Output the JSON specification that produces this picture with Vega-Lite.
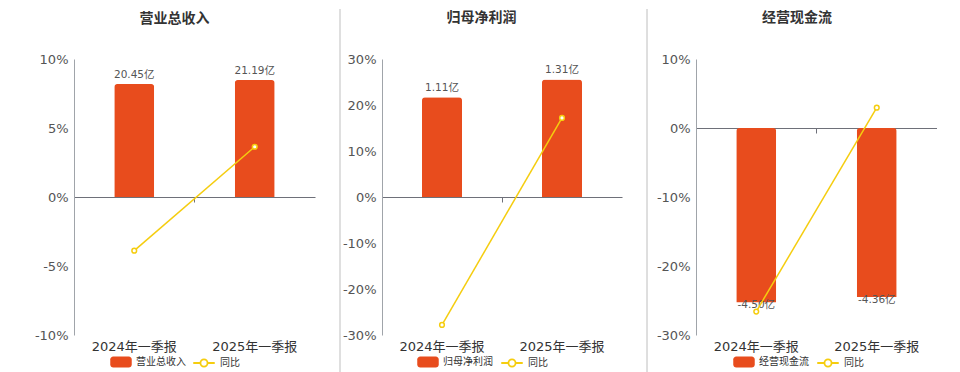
{
 "$schema": "https://vega.github.io/schema/vega-lite/v6.json",
 "background": "white",
 "padding": {"left": 0, "top": 8, "right": 0, "bottom": 0},
 "spacing": 24,
 "config": {
  "font": "DejaVu Sans, Noto Sans CJK SC",
  "view": {"stroke": null},
  "title": {"fontSize": 14, "fontWeight": "bold", "color": "#333333", "frame": "group", "anchor": "middle", "offset": -17},
  "axis": {"labelFontSize": 13, "labelColor": "#555555"},
  "axisY": {"grid": true, "gridColor": "#E8ECF4", "domainColor": "#A0A4AA", "ticks": false, "labelPadding": 6},
  "legend": {"labelFontSize": 10, "labelColor": "#333333", "labelOffset": 4, "symbolSize": 462, "padding": 0}
 },
 "hconcat": [
  {
   "width": 241, "height": 276,
   "title": {"text": "营业总收入", "dx": -20},
   "layer": [
    {
     "data": {"values": [
      {"period": "2024年一季报", "value": 20.45, "label": "20.45亿", "yoy": -3.89},
      {"period": "2025年一季报", "value": 21.19, "label": "21.19亿", "yoy": 3.64}
     ]},
     "layer": [
      {
       "encoding": {
        "x": {"field": "period", "type": "nominal", "sort": null, "scale": {"paddingInner": 0, "paddingOuter": 0},
              "axis": {"orient": "top", "offset": -138, "title": null, "labels": false, "grid": false, "domain": true, "domainColor": "#6E7079", "domainWidth": 1.2, "ticks": true, "tickColor": "#6E7079", "tickSize": -5, "bandPosition": 0}},
        "y": {"field": "value", "type": "quantitative", "scale": {"domain": [-25, 25], "nice": false, "zero": false}, "axis": null}
       },
       "layer": [
        {"mark": {"type": "bar", "width": 40, "cornerRadiusEnd": 3},
         "encoding": {
          "fill": {"datum": "营业总收入", "type": "nominal", "scale": {"range": ["#E84C1D"]},
                   "legend": {"orient": "none", "legendX": 36, "legendY": 292, "title": null, "symbolType": "M-0.72,-0.51H0.72A0.28,0.28,0,0,1,1,-0.23V0.23A0.28,0.28,0,0,1,0.72,0.51H-0.72A0.28,0.28,0,0,1,-1,0.23V-0.23A0.28,0.28,0,0,1,-0.72,-0.51Z", "symbolStrokeWidth": 0, "symbolOpacity": 1}}
         }},
        {"mark": {"type": "text", "baseline": "middle", "dy": -9, "fontSize": 10.5, "color": "#555555"},
         "encoding": {"text": {"field": "label"}}}
       ]
      },
      {
       "encoding": {
        "x": {"field": "period", "type": "nominal", "sort": null, "scale": {"paddingInner": 0, "paddingOuter": 0},
              "axis": {"orient": "bottom", "title": null, "domain": false, "ticks": false, "grid": false, "labelPadding": 5, "labelColor": "#333333", "labelAngle": 0}},
        "y": {"field": "yoy", "type": "quantitative", "scale": {"domain": [-10, 10], "nice": false}, "axis": {"title": null, "values": [-10, -5, 0, 5, 10], "labelExpr": "datum.value + '%'"}}
       },
       "layer": [
        {"mark": {"type": "line", "strokeWidth": 1.5},
         "encoding": {
          "stroke": {"datum": "同比", "type": "nominal", "scale": {"range": ["#F5CD0F"]},
                     "legend": {"orient": "none", "legendX": 118, "legendY": 292, "title": null, "symbolType": "M-1,0H-0.33M0.33,0H1M0.33,0A0.33,0.33,0,1,1,-0.33,0A0.33,0.33,0,1,1,0.33,0", "symbolStrokeWidth": 1.8, "symbolFillColor": "#ffffff", "symbolOpacity": 1}}
         }},
        {"mark": {"type": "point", "filled": true, "fill": "#ffffff", "stroke": "#F5CD0F", "strokeWidth": 1.5, "size": 22, "opacity": 1}}
       ]
      }
     ],
     "resolve": {"scale": {"y": "independent"}}
    },
    {
     "data": {"values": [{}]},
     "mark": {"type": "rule", "color": "#D4D4D4", "strokeWidth": 1.5, "opacity": 0, "clip": false},
     "encoding": {
      "x": {"datum": -0.307, "type": "quantitative", "scale": {"domain": [0, 1], "nice": false, "zero": false}, "axis": null},
      "y": {"datum": 1.1812, "type": "quantitative", "scale": {"domain": [0, 1], "nice": false, "zero": false}, "axis": null},
      "y2": {"datum": -0.1377}
     }
    }
   ],
   "resolve": {"scale": {"x": "independent", "y": "independent"}}
  },
  {
   "width": 240, "height": 276,
   "title": {"text": "归母净利润", "dx": -20.5},
   "layer": [
    {
     "data": {"values": [
      {"period": "2024年一季报", "value": 1.11, "label": "1.11亿", "yoy": -27.8},
      {"period": "2025年一季报", "value": 1.31, "label": "1.31亿", "yoy": 17.2}
     ]},
     "layer": [
      {
       "encoding": {
        "x": {"field": "period", "type": "nominal", "sort": null, "scale": {"paddingInner": 0, "paddingOuter": 0},
              "axis": {"orient": "top", "offset": -138, "title": null, "labels": false, "grid": false, "domain": true, "domainColor": "#6E7079", "domainWidth": 1.2, "ticks": true, "tickColor": "#6E7079", "tickSize": -5, "bandPosition": 0}},
        "y": {"field": "value", "type": "quantitative", "scale": {"domain": [-1.537, 1.537], "nice": false, "zero": false}, "axis": null}
       },
       "layer": [
        {"mark": {"type": "bar", "width": 40, "cornerRadiusEnd": 3},
         "encoding": {
          "fill": {"datum": "归母净利润", "type": "nominal", "scale": {"range": ["#E84C1D"]},
                   "legend": {"orient": "none", "legendX": 35, "legendY": 292, "title": null, "symbolType": "M-0.72,-0.51H0.72A0.28,0.28,0,0,1,1,-0.23V0.23A0.28,0.28,0,0,1,0.72,0.51H-0.72A0.28,0.28,0,0,1,-1,0.23V-0.23A0.28,0.28,0,0,1,-0.72,-0.51Z", "symbolStrokeWidth": 0, "symbolOpacity": 1}}
         }},
        {"mark": {"type": "text", "baseline": "middle", "dy": -9, "fontSize": 10.5, "color": "#555555"},
         "encoding": {"text": {"field": "label"}}}
       ]
      },
      {
       "encoding": {
        "x": {"field": "period", "type": "nominal", "sort": null, "scale": {"paddingInner": 0, "paddingOuter": 0},
              "axis": {"orient": "bottom", "title": null, "domain": false, "ticks": false, "grid": false, "labelPadding": 5, "labelColor": "#333333", "labelAngle": 0}},
        "y": {"field": "yoy", "type": "quantitative", "scale": {"domain": [-30, 30], "nice": false}, "axis": {"title": null, "values": [-30, -20, -10, 0, 10, 20, 30], "labelExpr": "datum.value + '%'"}}
       },
       "layer": [
        {"mark": {"type": "line", "strokeWidth": 1.5},
         "encoding": {
          "stroke": {"datum": "同比", "type": "nominal", "scale": {"range": ["#F5CD0F"]},
                     "legend": {"orient": "none", "legendX": 118, "legendY": 292, "title": null, "symbolType": "M-1,0H-0.33M0.33,0H1M0.33,0A0.33,0.33,0,1,1,-0.33,0A0.33,0.33,0,1,1,0.33,0", "symbolStrokeWidth": 1.8, "symbolFillColor": "#ffffff", "symbolOpacity": 1}}
         }},
        {"mark": {"type": "point", "filled": true, "fill": "#ffffff", "stroke": "#F5CD0F", "strokeWidth": 1.5, "size": 22, "opacity": 1}}
       ]
      }
     ],
     "resolve": {"scale": {"y": "independent"}}
    },
    {
     "data": {"values": [{}]},
     "mark": {"type": "rule", "color": "#D4D4D4", "strokeWidth": 1.5, "clip": false},
     "encoding": {
      "x": {"datum": -0.175, "type": "quantitative", "scale": {"domain": [0, 1], "nice": false, "zero": false}, "axis": null},
      "y": {"datum": 1.1812, "type": "quantitative", "scale": {"domain": [0, 1], "nice": false, "zero": false}, "axis": null},
      "y2": {"datum": -0.1377}
     }
    }
   ],
   "resolve": {"scale": {"x": "independent", "y": "independent"}}
  },
  {
   "width": 241, "height": 276,
   "title": {"text": "经营现金流", "dx": -19.5},
   "layer": [
    {
     "data": {"values": [
      {"period": "2024年一季报", "value": -4.50, "label": "-4.50亿", "yoy": -26.6},
      {"period": "2025年一季报", "value": -4.36, "label": "-4.36亿", "yoy": 2.94}
     ]},
     "layer": [
      {
       "encoding": {
        "x": {"field": "period", "type": "nominal", "sort": null, "scale": {"paddingInner": 0, "paddingOuter": 0},
              "axis": {"orient": "top", "offset": -69, "title": null, "labels": false, "grid": false, "domain": true, "domainColor": "#6E7079", "domainWidth": 1.2, "ticks": true, "tickColor": "#6E7079", "tickSize": -5, "bandPosition": 0}},
        "y": {"field": "value", "type": "quantitative", "scale": {"domain": [-5.34, 1.78], "nice": false, "zero": false}, "axis": null}
       },
       "layer": [
        {"mark": {"type": "bar", "width": 40, "cornerRadiusEnd": 3},
         "encoding": {
          "fill": {"datum": "经营现金流", "type": "nominal", "scale": {"range": ["#E84C1D"]},
                   "legend": {"orient": "none", "legendX": 37, "legendY": 292, "title": null, "symbolType": "M-0.72,-0.51H0.72A0.28,0.28,0,0,1,1,-0.23V0.23A0.28,0.28,0,0,1,0.72,0.51H-0.72A0.28,0.28,0,0,1,-1,0.23V-0.23A0.28,0.28,0,0,1,-0.72,-0.51Z", "symbolStrokeWidth": 0, "symbolOpacity": 1}}
         }},
        {"mark": {"type": "text", "baseline": "middle", "dy": 3, "fontSize": 10.5, "color": "#555555"},
         "encoding": {"text": {"field": "label"}}}
       ]
      },
      {
       "encoding": {
        "x": {"field": "period", "type": "nominal", "sort": null, "scale": {"paddingInner": 0, "paddingOuter": 0},
              "axis": {"orient": "bottom", "title": null, "domain": false, "ticks": false, "grid": false, "labelPadding": 5, "labelColor": "#333333", "labelAngle": 0}},
        "y": {"field": "yoy", "type": "quantitative", "scale": {"domain": [-30, 10], "nice": false}, "axis": {"title": null, "values": [-30, -20, -10, 0, 10], "labelExpr": "datum.value + '%'"}}
       },
       "layer": [
        {"mark": {"type": "line", "strokeWidth": 1.5},
         "encoding": {
          "stroke": {"datum": "同比", "type": "nominal", "scale": {"range": ["#F5CD0F"]},
                     "legend": {"orient": "none", "legendX": 120, "legendY": 292, "title": null, "symbolType": "M-1,0H-0.33M0.33,0H1M0.33,0A0.33,0.33,0,1,1,-0.33,0A0.33,0.33,0,1,1,0.33,0", "symbolStrokeWidth": 1.8, "symbolFillColor": "#ffffff", "symbolOpacity": 1}}
         }},
        {"mark": {"type": "point", "filled": true, "fill": "#ffffff", "stroke": "#F5CD0F", "strokeWidth": 1.5, "size": 22, "opacity": 1}}
       ]
      }
     ],
     "resolve": {"scale": {"y": "independent"}}
    },
    {
     "data": {"values": [{}]},
     "mark": {"type": "rule", "color": "#D4D4D4", "strokeWidth": 1.5, "clip": false},
     "encoding": {
      "x": {"datum": -0.2033, "type": "quantitative", "scale": {"domain": [0, 1], "nice": false, "zero": false}, "axis": null},
      "y": {"datum": 1.1812, "type": "quantitative", "scale": {"domain": [0, 1], "nice": false, "zero": false}, "axis": null},
      "y2": {"datum": -0.1377}
     }
    }
   ],
   "resolve": {"scale": {"x": "independent", "y": "independent"}}
  }
 ],
 "resolve": {"scale": {"x": "independent", "y": "independent", "fill": "independent", "stroke": "independent"}, "legend": {"fill": "independent", "stroke": "independent"}}
}
